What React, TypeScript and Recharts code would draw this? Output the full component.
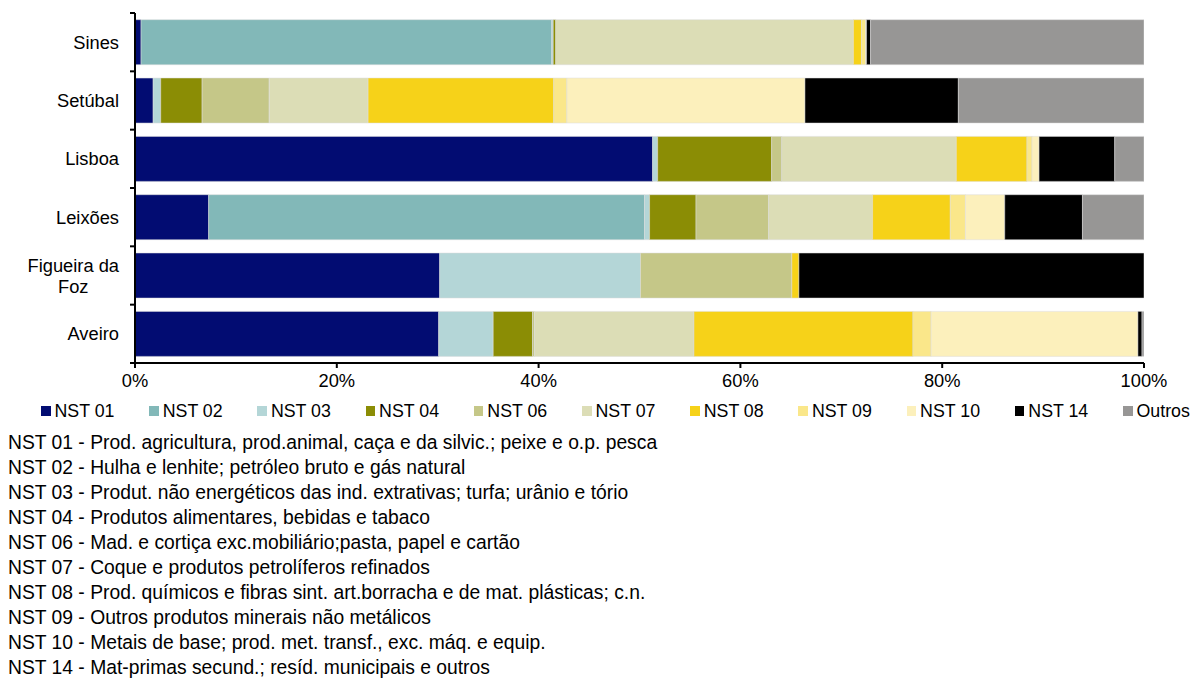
import { BarChart, Bar, XAxis, YAxis } from 'recharts';

const ports = ['Sines', 'Setúbal', 'Lisboa', 'Leixões', 'Figueira da Foz', 'Aveiro'];

// shares in % per port, same order as ports
const nst01 = [0.6, 1.8, 51.3, 7.3, 30.2, 30.1];
const nst02 = [40.7, 0, 0, 43.2, 0, 0];
const nst03 = [0.15, 0.75, 0.5, 0.5, 19.9, 5.4];
const nst04 = [0.25, 4.1, 11.3, 4.6, 0, 3.9];
const nst06 = [0, 6.65, 1.0, 7.2, 15.0, 0.2];
const nst07 = [29.5, 9.8, 17.3, 10.3, 0, 15.8];
const nst08 = [0.8, 18.4, 7.0, 7.7, 0.7, 21.7];
const nst09 = [0.4, 1.3, 0.5, 1.5, 0, 1.8];
const nst10 = [0.1, 23.6, 0.7, 3.9, 0, 20.5];
const nst14 = [0.4, 15.2, 7.5, 7.7, 34.2, 0.4];
const outros = [27.1, 18.4, 2.9, 6.1, 0, 0.2];

const seriesNames = ['NST 01', 'NST 02', 'NST 03', 'NST 04', 'NST 06', 'NST 07', 'NST 08', 'NST 09', 'NST 10', 'NST 14', 'Outros'];
const seriesValues = [nst01, nst02, nst03, nst04, nst06, nst07, nst08, nst09, nst10, nst14, outros];
const seriesColors = ['#020C72', '#82B8B8', '#B4D6D7', '#8B8D05', '#C5C788', '#DCDDB6', '#F6D219', '#FAE78A', '#FCF0BC', '#000000', '#979695'];

const xTicks = [0, 20, 40, 60, 80, 100];

const notes = [
  'NST 01 - Prod. agricultura, prod.animal, caça e da silvic.; peixe e o.p. pesca',
  'NST 02 - Hulha e lenhite; petróleo bruto e gás natural',
  'NST 03 - Produt. não energéticos das ind. extrativas; turfa; urânio e tório',
  'NST 04 - Produtos alimentares, bebidas e tabaco',
  'NST 06 - Mad. e cortiça exc.mobiliário;pasta, papel e cartão',
  'NST 07 - Coque e produtos petrolíferos refinados',
  'NST 08 - Prod. químicos e fibras sint. art.borracha e de mat. plásticas; c.n.',
  'NST 09 - Outros produtos minerais não metálicos',
  'NST 10 - Metais de base; prod. met. transf., exc. máq. e equip.',
  'NST 14 - Mat-primas secund.; resíd. municipais e outros',
];

const data = ports.map((port, i) => {
  const row: Record<string, string | number> = { port };
  seriesNames.forEach((s, k) => {
    row[s] = seriesValues[k][i];
  });
  return row;
});

const FONT = '"Liberation Sans", Arial, sans-serif';
const FS = 18.3;
const PLOT_TOP = 13;
const PLOT_BOTTOM = 363;
const BAND = (PLOT_BOTTOM - PLOT_TOP) / ports.length;

const wrapLabels: Record<string, string[]> = {
  'Figueira da Foz': ['Figueira da', 'Foz'],
};

let ctx: CanvasRenderingContext2D | null = null;
function textWidth(s: string) {
  if (!ctx) ctx = document.createElement('canvas').getContext('2d');
  if (!ctx) return s.length * FS * 0.5;
  ctx.font = `${FS}px ${FONT}`;
  return ctx.measureText(s).width;
}

function PortTick(props: any) {
  const { x, y, payload, index } = props;
  const lines: string[] = wrapLabels[payload.value] ?? [payload.value];
  const axisX = x + 8;
  const right = x - 8;
  const first = -((lines.length - 1) * 21) / 2;
  // multi-line labels are centred on the widest line, right aligned as a block
  const maxW = Math.max(...lines.map(textWidth));
  const cx = right - maxW / 2;
  const multi = lines.length > 1;
  return (
    <g>
      <line x1={axisX - 5} x2={axisX} y1={y - BAND / 2} y2={y - BAND / 2} stroke="#000" strokeWidth={2} />
      {index === ports.length - 1 && (
        <line x1={axisX - 5} x2={axisX} y1={y + BAND / 2} y2={y + BAND / 2} stroke="#000" strokeWidth={2} />
      )}
      <text x={multi ? cx : right} y={y} textAnchor={multi ? 'middle' : 'end'} fontSize={FS} fill="#000" fontFamily={FONT}>
        {lines.map((l, i) => (
          <tspan key={i} x={multi ? cx : right} dy={i === 0 ? first + 6.5 : 21}>
            {l}
          </tspan>
        ))}
      </text>
    </g>
  );
}

export default function App() {
  return (
    <div style={{ position: 'absolute', left: 0, top: 0, width: 1192, height: 682, background: '#fff', fontFamily: FONT, overflow: 'hidden' }}>
      <BarChart
        width={1192}
        height={400}
        data={data}
        layout="vertical"
        margin={{ top: PLOT_TOP, right: 48, left: 0, bottom: 0 }}
        barCategoryGap="11.5%"
      >
        <XAxis
          type="number"
          domain={[0, 100]}
          ticks={xTicks}
          tickFormatter={(v) => `${v}%`}
          axisLine={{ stroke: '#000', strokeWidth: 2 }}
          tickLine={{ stroke: '#000', strokeWidth: 2 }}
          tickSize={5}
          tickMargin={6}
          tick={{ fontSize: FS, fill: '#000', fontFamily: FONT }}
          height={37}
          allowDataOverflow
        />
        <YAxis
          type="category"
          dataKey="port"
          width={135}
          axisLine={{ stroke: '#000', strokeWidth: 2 }}
          tickLine={false}
          tick={<PortTick />}
          interval={0}
        />
        {seriesNames.map((s, k) => (
          <Bar
            key={s}
            dataKey={s}
            stackId="a"
            fill={seriesColors[k]}
            stroke="#dcdcdc"
            strokeWidth={0.5}
            isAnimationActive={false}
          />
        ))}
      </BarChart>

      <div style={{ position: 'absolute', top: 400, left: 0, width: 1192, height: 22 }}>
        {seriesNames.map((s, k) => (
          <div
            key={s}
            style={{ position: 'absolute', left: 41 + k * 108.2, top: 0, display: 'flex', alignItems: 'center', height: 22, fontSize: 17.8, color: '#000', whiteSpace: 'nowrap' }}
          >
            <span style={{ display: 'inline-block', width: 9.5, height: 9.5, background: seriesColors[k], marginRight: 4 }} />
            {s}
          </div>
        ))}
      </div>

      <div style={{ position: 'absolute', top: 430, left: 8, fontSize: 19.3, lineHeight: '25px', color: '#000', whiteSpace: 'nowrap' }}>
        {notes.map((n) => (
          <div key={n}>{n}</div>
        ))}
      </div>
    </div>
  );
}
